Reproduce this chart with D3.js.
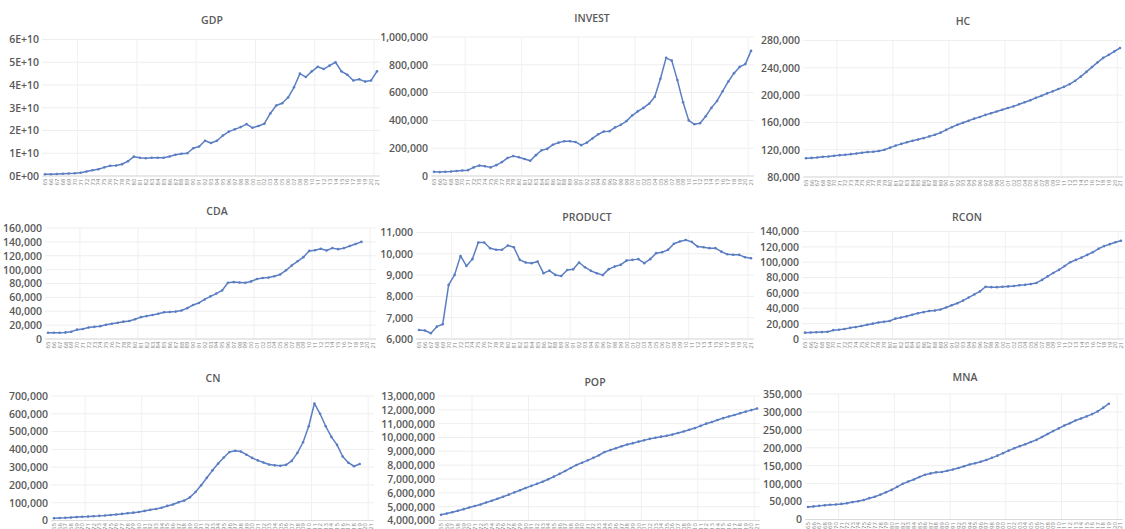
<!DOCTYPE html>
<html>
<head>
<meta charset="utf-8">
<script src="https://cdn.jsdelivr.net/npm/d3@7"></script>
<style>
  html, body { margin: 0; padding: 0; background: #ffffff; overflow: hidden; }
  svg { display: block; font-family: "Open Sans", sans-serif; }
</style>
</head>
<body>
<svg id="chart" width="1125" height="529"></svg>
<script>
// Category axis: years 1965-2021, shown as two-digit labels
const years = ["65","66","67","68","69","70","71","72","73","74",
               "75","76","77","78","79","80","81","82","83","84",
               "85","86","87","88","89","90","91","92","93","94",
               "95","96","97","98","99","00","01","02","03","04",
               "05","06","07","08","09","10","11","12","13","14",
               "15","16","17","18","19","20","21"];

// Series (GDP in units of 1E+10; POP in millions; the rest in thousands)
const gdp = [0.08,0.08,0.09,0.10,0.11,0.12,0.14,0.20,0.25,0.30,
             0.38,0.45,0.46,0.52,0.65,0.85,0.80,0.78,0.80,0.80,
             0.80,0.86,0.93,0.98,1.00,1.22,1.30,1.55,1.45,1.55,
             1.78,1.95,2.05,2.15,2.28,2.12,2.20,2.30,2.75,3.10,
             3.20,3.45,3.90,4.50,4.35,4.60,4.80,4.70,4.85,5.00,
             4.60,4.45,4.20,4.25,4.15,4.20,4.60];
const invest = [30,28,30,32,36,40,42,62,75,70,
                62,78,100,130,143,135,122,110,150,185,
                195,225,240,250,250,245,222,240,270,300,
                320,322,350,368,395,435,465,490,520,570,
                700,850,830,690,530,400,372,380,430,490,
                540,610,680,740,785,805,900];
const hc = [107.5,108,108.5,109.5,110,111,112,112.5,113.5,114.5,
            115.5,116.5,117,118,120,123,126,128.5,131,133,
            135,137,139.5,142,145,149,153,156.5,159.5,162.5,
            165.5,168,171,173.5,176,178.5,181,183.5,186.5,189.5,
            192.5,196,199,202.5,205.5,209,212,216,221,227,
            234,241,248,254.5,259,264,269];
const cda = [9,9,9,9.5,10.5,13.5,14.5,16.5,17.5,18.5,
             20.5,22,23.5,25,26,28.5,31.5,33,34.5,36.5,
             38.5,39,39.5,41,44.5,49,52,57,61.5,65.5,
             70,81,82,81.5,81,83,86.5,88,88.5,90.5,
             93,99,106,112,118,127,128,130,127.5,131,
             129.5,131,134,137,140,null,null];
const product = [6420,6400,6270,6580,6690,8540,9010,9900,9430,9750,
                 10530,10530,10260,10190,10190,10390,10310,9715,9590,9560,
                 9640,9090,9210,9010,8960,9240,9270,9590,9370,9200,
                 9090,9000,9280,9400,9480,9680,9715,9750,9560,9750,
                 10030,10075,10185,10470,10580,10650,10560,10340,10310,10265,
                 10265,10100,9980,9950,9950,9840,9790];
const rcon = [8.3,8.5,8.7,9,9.3,11.5,12,13,14.5,15.5,
              17,18.5,20,21.5,22.5,23.5,26.5,28,29.5,31.5,
              33.5,35,36.5,37,38.5,41,44,46.5,50,54,
              58,62,68,67.5,67.5,68,68.5,69,70,70.5,
              71.5,73,77,81.5,86,90,95,100,103,106,
              109.5,113,117.5,121,123.5,126,128];
const cn = [13,14,15,17,19,21,22,24,26,28,
            31,34,37,41,44,48,54,60,65,72,
            82,90,103,112,130,160,198,240,282,320,
            354,385,392,388,370,352,338,326,315,310,
            308,313,335,380,440,530,658,600,530,470,
            425,360,325,305,318,null,null];
const pop = [4.41,4.50,4.60,4.70,4.82,4.94,5.05,5.16,5.30,5.43,
             5.57,5.72,5.87,6.03,6.19,6.35,6.50,6.65,6.80,6.98,
             7.17,7.37,7.58,7.80,8.01,8.18,8.35,8.53,8.72,8.95,
             9.09,9.22,9.37,9.49,9.59,9.70,9.80,9.90,9.98,10.06,
             10.13,10.21,10.32,10.43,10.56,10.68,10.84,11.00,11.12,11.27,
             11.40,11.52,11.63,11.75,11.87,11.98,12.10];
const mna = [35,36.5,38,39.5,41,42,43.5,45.5,48.5,51,
             54.5,59.5,63.5,69.5,76,82.5,91,99.5,106,111.5,
             118.5,125,128.5,131.5,132.5,136,139.5,143.5,148.5,153.5,
             157,161,166,172,178,185,192,198.5,204.5,210,
             216,222,230,238.5,246.5,254,262,268.5,276,281.5,
             287.5,294,301.5,312,323,null,null];

// Value-axis ticks, in the same units as the series
const gdpTicks     = [0,1,2,3,4,5,6];
const investTicks  = [0,200,400,600,800,1000];
const hcTicks      = [80,120,160,200,240,280];
const cdaTicks     = [0,20,40,60,80,100,120,140,160];
const productTicks = [6000,7000,8000,9000,10000,11000];
const rconTicks    = [0,20,40,60,80,100,120,140];
const cnTicks      = [0,100,200,300,400,500,600,700];
const popTicks     = [4,5,6,7,8,9,10,11,12,13];
const mnaTicks     = [0,50,100,150,200,250,300,350];

const comma = d3.format(",");
const fmtSci = v => (v === 0 ? "0" : v) + "E+" + (v === 0 ? "00" : "10");
const fmtK = v => comma(v * 1000);
const fmtM = v => comma(v * 1000000);
const fmtN = v => comma(v);

// Panel layout: first/last category centre, value-axis extent, title position
const panels = [
  { title: "GDP",     values: gdp,     ticks: gdpTicks,     fmt: fmtSci, cx0: 45,  cx1: 377,  yTop: 39.5, yBot: 176,   tx: 212, ty: 20 },
  { title: "INVEST",  values: invest,  ticks: investTicks,  fmt: fmtK,   cx0: 434, cx1: 751,  yTop: 37,   yBot: 176,   tx: 592, ty: 18 },
  { title: "HC",      values: hc,      ticks: hcTicks,      fmt: fmtK,   cx0: 806, cx1: 1120, yTop: 40.5, yBot: 177,   tx: 963, ty: 21 },
  { title: "CDA",     values: cda,     ticks: cdaTicks,     fmt: fmtK,   cx0: 48,  cx1: 373,  yTop: 228,  yBot: 339,   tx: 217, ty: 211 },
  { title: "PRODUCT", values: product, ticks: productTicks, fmt: fmtN,   cx0: 419, cx1: 751,  yTop: 232.5,yBot: 339,   tx: 587, ty: 217 },
  { title: "RCON",    values: rcon,    ticks: rconTicks,    fmt: fmtK,   cx0: 805, cx1: 1121, yTop: 231.5,yBot: 339,   tx: 967, ty: 217 },
  { title: "CN",      values: cn,      ticks: cnTicks,      fmt: fmtK,   cx0: 54,  cx1: 371,  yTop: 396,  yBot: 520.5, tx: 213, ty: 378 },
  { title: "POP",     values: pop,     ticks: popTicks,     fmt: fmtM,   cx0: 441, cx1: 757,  yTop: 396,  yBot: 520.5, tx: 595, ty: 382 },
  { title: "MNA",     values: mna,     ticks: mnaTicks,     fmt: fmtK,   cx0: 808, cx1: 1120, yTop: 394,  yBot: 519.5, tx: 965, ty: 377 }
];

const svg = d3.select("#chart");
const lineColor = "#5b7ec3";
const textColor = "#595959";

panels.forEach(p => {
  const n = years.length;
  const step = (p.cx1 - p.cx0) / (n - 1);
  const x = d3.scaleBand().domain(years).range([p.cx0 - step / 2, p.cx1 + step / 2]).padding(0);
  const cx = d => x(d) + x.bandwidth() / 2;
  const [left, right] = x.range();
  const y = d3.scaleLinear()
    .domain([p.ticks[0], p.ticks[p.ticks.length - 1]])
    .range([p.yBot, p.yTop]);

  const g = svg.append("g");

  // horizontal gridlines
  g.append("g").selectAll("line").data(p.ticks).join("line")
    .attr("x1", left).attr("x2", right)
    .attr("y1", d => y(d)).attr("y2", d => y(d))
    .attr("stroke", "#eeeeee").attr("stroke-width", 1);

  // vertical gridlines every ten categories
  const vg = years.filter((d, i) => i % 10 === 6);
  g.append("g").selectAll("line").data(vg).join("line")
    .attr("x1", d => x(d)).attr("x2", d => x(d))
    .attr("y1", p.yTop).attr("y2", p.yBot)
    .attr("stroke", "#f0f0f0").attr("stroke-width", 1);

  // category axis baseline
  g.append("line")
    .attr("x1", left).attr("x2", right)
    .attr("y1", p.yBot).attr("y2", p.yBot)
    .attr("stroke", "#d9d9d9").attr("stroke-width", 1);

  // value axis labels
  const yAxis = d3.axisLeft(y).tickValues(p.ticks).tickFormat(p.fmt).tickSize(0).tickPadding(0);
  const ya = g.append("g").attr("transform", `translate(${p.cx0 - 6},0)`).call(yAxis);
  ya.select(".domain").remove();
  ya.selectAll("text")
    .attr("fill", textColor)
    .style("font-family", "'Open Sans', sans-serif")
    .style("font-size", "10.5px")
    .style("font-weight", "600");

  // category axis labels, rotated
  const xAxis = d3.axisBottom(x).tickSize(0).tickPadding(0);
  const xa = g.append("g").attr("transform", `translate(0,${p.yBot + 2})`).call(xAxis);
  xa.select(".domain").remove();
  xa.selectAll("text")
    .attr("fill", "#7f7f7f")
    .style("font-family", "'Open Sans', sans-serif")
    .style("font-size", "6px")
    .attr("transform", "rotate(-90)")
    .attr("text-anchor", "end")
    .attr("x", 0).attr("y", 0)
    .attr("dx", "-0.1em").attr("dy", "0.35em");

  // series line and markers
  const pts = years.map((d, i) => ({ k: d, v: p.values[i] })).filter(d => d.v != null);
  const line = d3.line().x(d => cx(d.k)).y(d => y(d.v));
  g.append("path").datum(pts)
    .attr("d", line)
    .attr("fill", "none")
    .attr("stroke", lineColor)
    .attr("stroke-width", 1.5)
    .attr("stroke-linejoin", "round");
  g.append("g").selectAll("circle").data(pts).join("circle")
    .attr("cx", d => cx(d.k)).attr("cy", d => y(d.v))
    .attr("r", 1.3)
    .attr("fill", lineColor);

  // title
  g.append("text")
    .attr("x", p.tx).attr("y", p.ty + 4)
    .attr("text-anchor", "middle")
    .attr("fill", textColor)
    .style("font-size", "10.5px")
    .style("font-weight", "600")
    .text(p.title);
});
</script>
</body>
</html>
